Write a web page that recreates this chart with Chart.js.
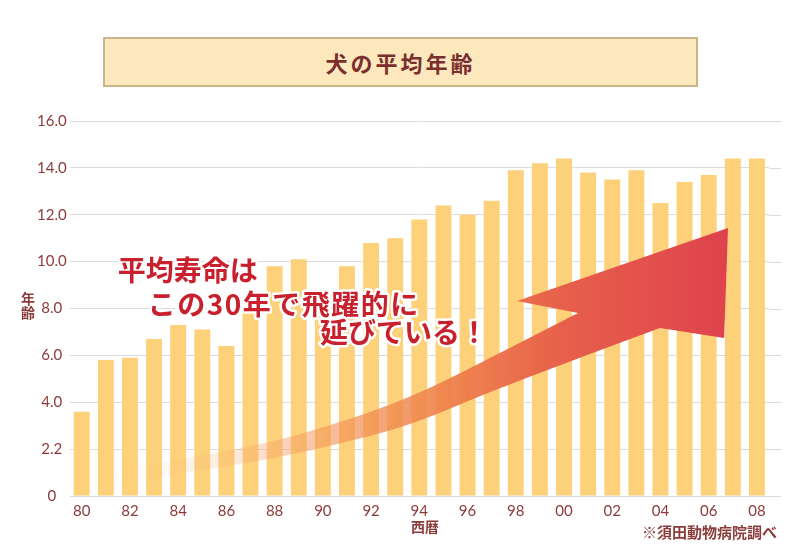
<!DOCTYPE html>
<html lang="ja">
<head>
<meta charset="utf-8">
<script src="https://cdn.jsdelivr.net/npm/chart.js@4/dist/chart.umd.min.js"></script>
<style>
  html, body { margin: 0; padding: 0; background: #fff; }
  #wrap { position: relative; width: 800px; height: 555px; font-family: "Noto Sans CJK JP", sans-serif; }
  #chart { position: absolute; left: 0; top: 0; }
  .title-box {
    position: absolute; left: 103px; top: 37px; width: 591px; height: 46px;
    background: #fde8bd; border: 2px solid #cbb68c;
    color: #7a2e2e; font-weight: 700; font-size: 22px; letter-spacing: 3px;
    display: flex; align-items: center; justify-content: center;
  }
  .y-title {
    position: absolute; left: 20px; top: 291px; width: 16px;
    color: #8c3b3b; font-weight: 700; font-size: 14px; line-height: 14px; text-align: center;
  }
  .x-title {
    position: absolute; left: 411px; top: 516px;
    color: #8c3b3b; font-weight: 700; font-size: 14px;
  }
  .note {
    position: absolute; left: 642px; top: 521px;
    color: #8c3b3b; font-weight: 700; font-size: 15px;
  }
</style>
</head>
<body>
<div id="wrap">
  <canvas id="chart" width="800" height="555"></canvas>
  <div class="title-box">犬の平均年齢</div>
  <div class="y-title">年<br>齢</div>
  <div class="x-title">西暦</div>
  <div class="note">※須田動物病院調べ</div>
</div>
<script>
const YEARS = ['80', '81', '82', '83', '84', '85', '86', '87', '88', '89',
  '90', '91', '92', '93', '94', '95', '96', '97', '98', '99',
  '00', '01', '02', '03', '04', '05', '06', '07', '08'];
const AVG_AGE = [3.6, 5.8, 5.9, 6.7, 7.3, 7.1, 6.4, 7.9, 9.8, 10.1,
  8.6, 9.8, 10.8, 11.0, 11.8, 12.4, 12.0, 12.6, 13.9, 14.2,
  14.4, 13.8, 13.5, 13.9, 12.5, 13.4, 13.7, 14.4, 14.4];
const Y_TICK_LABELS = ['0', '2.2', '4.0', '6.0', '8.0', '10.0', '12.0', '14.0', '16.0'];
const NOTE_LINES = ['平均寿命は', 'この30年で飛躍的に', '延びている！'];

const TEXT_RED = '#8c3b3b';
const GRID_COLOR = '#dcdcdc';

// arrow outline in chart units: [category index, age]
const ARROW_UPPER = [[1.45, 1.11], [6.56, 1.96], [10.17, 2.94], [13.73, 4.22], [17.34, 6.1], [20.58, 7.81]];
const ARROW_LOWER = [[23.98, 7.17], [17.34, 4.65], [13.73, 3.03], [10.17, 2.09], [6.56, 1.32], [1.45, 0.6]];
const ARROW_HEAD = [[18.05, 8.32], [26.8, 11.43], [26.64, 6.74]];
const NOTE_POS = [[1.49, 9.64], [2.74, 8.19], [9.88, 7.0]];

const smoothTo = (ctx, pts) => {
  for (let i = 1; i < pts.length - 1; i++) {
    const mx = (pts[i][0] + pts[i + 1][0]) / 2;
    const my = (pts[i][1] + pts[i + 1][1]) / 2;
    ctx.quadraticCurveTo(pts[i][0], pts[i][1], mx, my);
  }
  const last = pts[pts.length - 1];
  ctx.lineTo(last[0], last[1]);
}

// gridlines run a little past the last bar in the original
const gridExtend = {
  id: 'gridExtend',
  beforeDatasetsDraw(chart) {
    const {ctx, chartArea, scales: {y}} = chart;
    ctx.save();
    ctx.strokeStyle = GRID_COLOR;
    ctx.lineWidth = 1;
    y.ticks.forEach(t => {
      const py = Math.round(y.getPixelForValue(t.value)) + 0.5;
      ctx.beginPath();
      ctx.moveTo(chartArea.right, py);
      ctx.lineTo(chartArea.right + 12, py);
      ctx.stroke();
    });
    ctx.restore();
  }
};

const arrowPlugin = {
  id: 'arrow',
  afterDatasetsDraw(chart) {
    const {ctx, scales: {x, y}} = chart;
    const px = p => [x.getPixelForValue(p[0]), y.getPixelForValue(p[1])];
    const upper = ARROW_UPPER.map(px);
    const lower = ARROW_LOWER.map(px);
    const head = ARROW_HEAD.map(px);

    ctx.save();
    const grad = ctx.createLinearGradient(upper[0][0], 0, head[1][0], 0);
    grad.addColorStop(0, 'rgba(250,200,160,0)');
    grad.addColorStop(0.2, 'rgba(245,160,110,0.25)');
    grad.addColorStop(0.4, 'rgba(240,140,80,0.7)');
    grad.addColorStop(0.55, 'rgba(238,128,75,0.95)');
    grad.addColorStop(0.72, '#e7614b');
    grad.addColorStop(1, '#df424d');
    ctx.fillStyle = grad;
    ctx.beginPath();
    ctx.moveTo(upper[0][0], upper[0][1]);
    smoothTo(ctx, upper);
    head.forEach(p => ctx.lineTo(p[0], p[1]));
    ctx.lineTo(lower[0][0], lower[0][1]);
    smoothTo(ctx, lower);
    ctx.closePath();
    ctx.fill();

    ctx.font = '700 28px "Noto Sans CJK JP"';
    ctx.textBaseline = 'middle';
    ctx.textAlign = 'left';
    ctx.lineJoin = 'round';
    NOTE_LINES.forEach((line, i) => {
      const [tx, ty] = px(NOTE_POS[i]);
      ctx.letterSpacing = i === 1 ? '1.5px' : '0px';
      ctx.strokeStyle = '#fff';
      ctx.lineWidth = 5;
      ctx.strokeText(line, tx, ty);
      ctx.fillStyle = '#c8202c';
      ctx.fillText(line, tx, ty);
    });
    ctx.restore();
  }
};

const config = {
  type: 'bar',
  data: {
    labels: YEARS,
    datasets: [{
      label: '平均年齢',
      data: AVG_AGE,
      backgroundColor: '#fdd17a',
      barPercentage: 0.66,
      categoryPercentage: 1
    }]
  },
  options: {
    responsive: false,
    animation: false,
    layout: {padding: {left: 34, right: 31, top: 121, bottom: 29}},
    plugins: {legend: {display: false}, tooltip: {enabled: false}},
    scales: {
      x: {
        grid: {display: false, drawTicks: false},
        border: {display: false},
        ticks: {
          autoSkip: false, maxRotation: 0, color: TEXT_RED, padding: 6,
          font: {family: 'Lato', size: 15},
          callback: (val, idx) => idx % 2 === 0 ? YEARS[idx] : ''
        }
      },
      y: {
        min: 0, max: 16,
        grid: {color: GRID_COLOR, drawTicks: false},
        border: {display: false},
        ticks: {
          stepSize: 2, color: TEXT_RED, padding: 3, crossAlign: 'center',
          font: {family: 'Lato', size: 15},
          callback: (val, idx) => Y_TICK_LABELS[idx]
        }
      }
    }
  },
  plugins: [gridExtend, arrowPlugin]
};

const chart = new Chart(document.getElementById('chart'), config);
</script>
</body>
</html>
